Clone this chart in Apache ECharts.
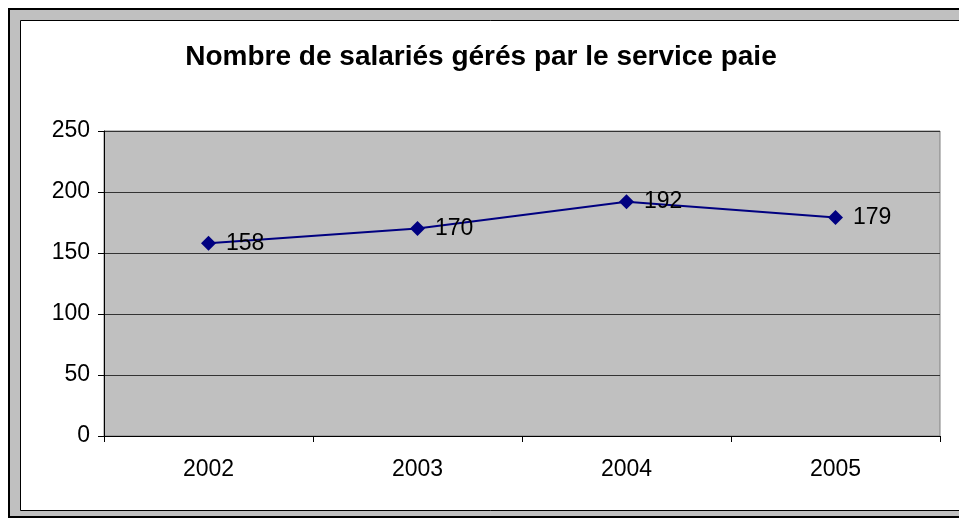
<!DOCTYPE html>
<html>
<head>
<meta charset="utf-8">
<script src="https://cdn.jsdelivr.net/npm/echarts@6/dist/echarts.min.js"></script>
<style>
  html, body { margin: 0; padding: 0; background: #fff; }
  #main { width: 959px; height: 518px; }
</style>
</head>
<body>
<div id="main"></div>
<script>
  var years = ['2002', '2003', '2004', '2005'];
  var salaries = [158, 170, 192, 179];
  var yTicks = { min: 0, max: 250, interval: 50 };

  var chart = echarts.init(document.getElementById('main'));
  chart.setOption({
    animation: false,
    textStyle: { fontFamily: 'Liberation Sans, Arial, sans-serif' },
    title: {
      text: 'Nombre de salariés gérés par le service paie',
      left: 476,
      top: 38,
      textAlign: 'center',
      textStyle: { fontSize: 28, fontWeight: 'bold', color: '#000' }
    },
    graphic: [
      // outer frame: black line, gray band, black line, white inside
      { type: 'rect', silent: true, z: -10, shape: { x: 9, y: 9, width: 1000, height: 508 },
        style: { fill: '#c0c0c0', stroke: '#000', lineWidth: 2 } },
      { type: 'rect', silent: true, z: -9, shape: { x: 20.5, y: 20.5, width: 1000, height: 490 },
        style: { fill: '#fff', stroke: '#000', lineWidth: 1 } }
    ],
    grid: {
      left: 104, top: 131, right: 19, bottom: 82,
      show: true, backgroundColor: '#c0c0c0', borderColor: '#808080', borderWidth: 1, z: 0
    },
    xAxis: {
      type: 'category',
      data: years,
      boundaryGap: true,
      axisLine: { lineStyle: { color: '#000', width: 1 } },
      axisTick: { show: true, length: 6, inside: false, lineStyle: { color: '#000' } },
      axisLabel: { color: '#000', fontSize: 23, margin: 22 }
    },
    yAxis: {
      type: 'value',
      min: yTicks.min, max: yTicks.max, interval: yTicks.interval,
      axisLine: { show: true, lineStyle: { color: '#000', width: 1 } },
      axisTick: { show: true, length: 6, lineStyle: { color: '#000' } },
      axisLabel: { color: '#000', fontSize: 23, margin: 14 },
      splitLine: { show: true, lineStyle: { color: '#333', width: 1 } }
    },
    series: [{
      type: 'line',
      data: salaries,
      symbol: 'diamond',
      symbolSize: 15,
      itemStyle: { color: '#000080' },
      lineStyle: { color: '#000080', width: 2 },
      label: { show: true, position: 'right', distance: 10, color: '#000', fontSize: 23 }
    }]
  });
</script>
</body>
</html>
